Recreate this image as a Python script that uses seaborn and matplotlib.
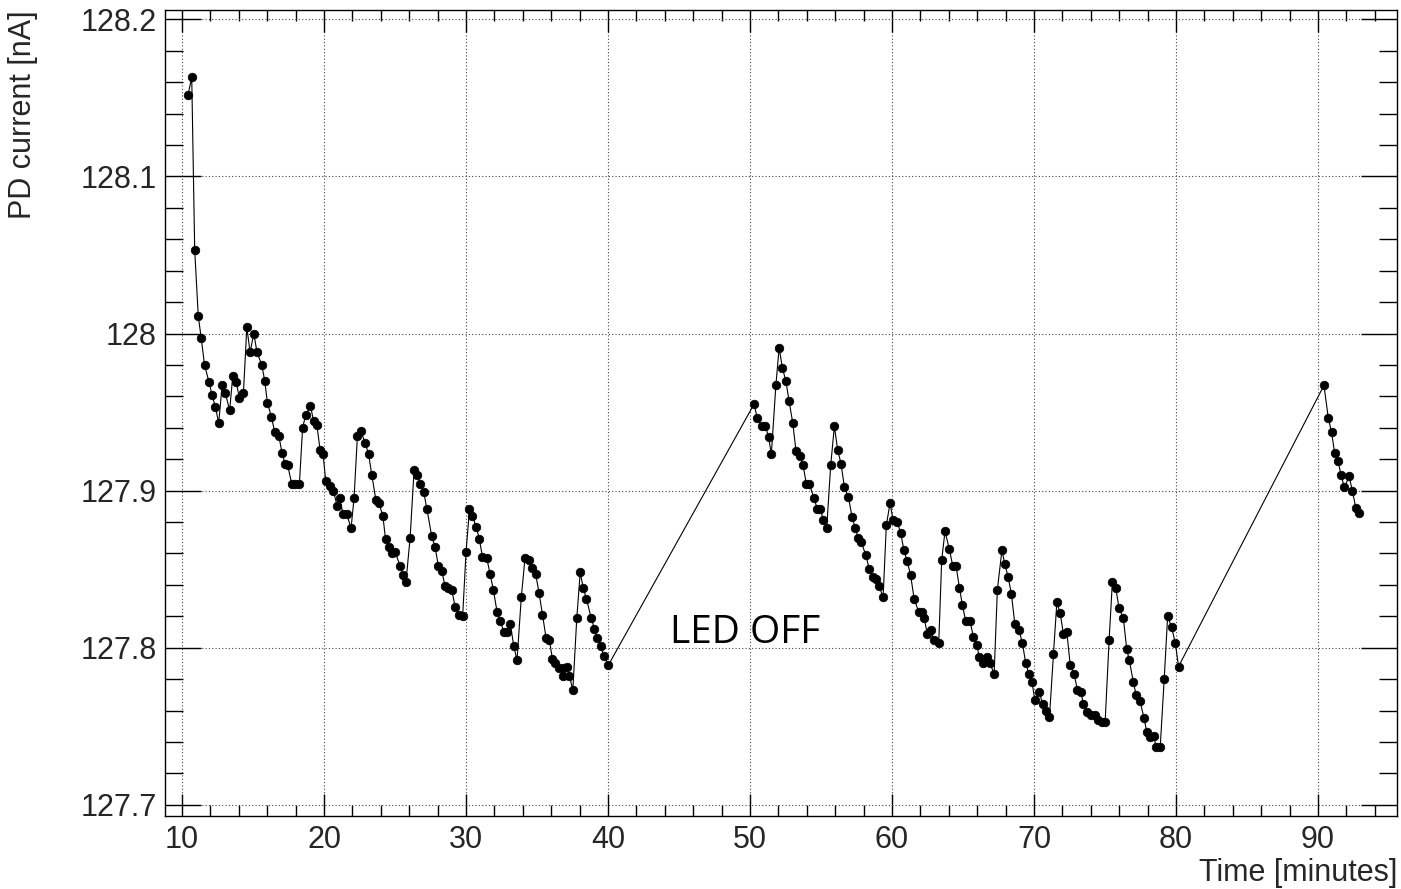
import matplotlib
matplotlib.use("Agg")
import matplotlib.pyplot as plt
from matplotlib.ticker import MultipleLocator
import seaborn as sns
import pandas as pd

# ---- data ----
time_run1 = [10.42, 10.68, 10.89, 11.14, 11.35, 11.58, 11.90, 12.11, 12.35, 12.58, 12.82, 13.05, 13.35, 13.57, 13.81, 14.04,
             14.32, 14.56, 14.79, 15.05, 15.28, 15.61, 15.82, 16.01, 16.29, 16.53, 16.81, 17.04, 17.25, 17.44, 17.73, 17.96, 18.26,
             18.49, 18.70, 19.04, 19.27, 19.49, 19.72, 19.93, 20.12, 20.40, 20.65, 20.93, 21.10, 21.34, 21.60, 21.90, 22.11,
             22.35, 22.58, 22.91, 23.14, 23.36, 23.65, 23.86, 24.14, 24.33, 24.60, 24.80, 25.00, 25.35, 25.59, 25.77, 26.06,
             26.34, 26.57, 26.78, 27.02, 27.25, 27.58, 27.82, 28.05, 28.29, 28.52, 28.75, 28.99, 29.23, 29.53, 29.76, 30.00,
             30.24, 30.45, 30.71, 30.94, 31.15, 31.46, 31.69, 31.92, 32.18, 32.39, 32.68, 32.91, 33.12, 33.36, 33.59, 33.89,
             34.15, 34.41, 34.62, 34.90, 35.14, 35.38, 35.64, 35.87, 36.08, 36.29, 36.57, 36.81, 36.86, 37.09, 37.28, 37.52, 37.80,
             38.04, 38.25, 38.48, 38.81, 39.04, 39.25, 39.49, 39.70, 40.03]
current_run1 = [128.152, 128.163, 128.053, 128.011, 127.997, 127.980, 127.969, 127.961, 127.953, 127.943, 127.967, 127.962, 127.951, 127.973, 127.969, 127.959,
                127.962, 128.004, 127.988, 128.000, 127.988, 127.980, 127.970, 127.956, 127.947, 127.937, 127.935, 127.924, 127.917, 127.916, 127.904, 127.904, 127.904,
                127.940, 127.948, 127.954, 127.944, 127.942, 127.926, 127.923, 127.906, 127.903, 127.900, 127.890, 127.895, 127.885, 127.885, 127.876, 127.895,
                127.935, 127.938, 127.930, 127.923, 127.910, 127.894, 127.892, 127.884, 127.869, 127.864, 127.860, 127.861, 127.852, 127.846, 127.842, 127.870,
                127.913, 127.910, 127.904, 127.899, 127.888, 127.871, 127.864, 127.852, 127.849, 127.839, 127.838, 127.837, 127.826, 127.821, 127.820, 127.861,
                127.888, 127.884, 127.877, 127.869, 127.858, 127.857, 127.847, 127.837, 127.823, 127.817, 127.810, 127.810, 127.815, 127.801, 127.792, 127.832,
                127.857, 127.856, 127.851, 127.847, 127.835, 127.821, 127.806, 127.805, 127.793, 127.790, 127.787, 127.787, 127.782, 127.788, 127.782, 127.773, 127.819,
                127.848, 127.838, 127.831, 127.819, 127.812, 127.806, 127.801, 127.795, 127.789]

time_run2 = [50.28, 50.52, 50.82, 51.08, 51.31, 51.50, 51.82, 52.05, 52.28, 52.52,
             52.75, 53.01, 53.24, 53.50, 53.74, 53.97, 54.18, 54.51, 54.75, 54.96,
             55.17, 55.40, 55.68, 55.94, 56.17, 56.41, 56.65, 56.93, 57.19, 57.42,
             57.61, 57.84, 58.15, 58.40, 58.64, 58.85, 59.10, 59.37, 59.60, 59.86,
             60.08, 60.37, 60.61, 60.84, 61.07, 61.31, 61.56, 61.87, 62.08, 62.26,
             62.48, 62.75, 62.93, 63.29, 63.50, 63.73, 64.03, 64.28, 64.51, 64.75,
             64.96, 65.19, 65.49, 65.73, 65.96, 66.15, 66.44, 66.68, 66.91, 67.19,
             67.42, 67.74, 67.95, 68.18, 68.41, 68.65, 68.95, 69.18, 69.42, 69.65,
             69.86, 70.05, 70.37, 70.61, 70.85, 71.09, 71.37, 71.61, 71.84, 72.07,
             72.31, 72.55, 72.83, 73.06, 73.30, 73.48, 73.72, 74.00, 74.31, 74.54,
             74.78, 75.01, 75.29, 75.52, 75.76, 75.99, 76.29, 76.53, 76.71, 77.00,
             77.19, 77.47, 77.75, 77.95, 78.18, 78.42, 78.60, 78.89, 79.17, 79.41,
             79.69, 79.95, 80.18]
current_run2 = [127.955, 127.946, 127.941, 127.941, 127.934, 127.923, 127.967, 127.991, 127.978, 127.970,
                127.957, 127.943, 127.925, 127.922, 127.916, 127.904, 127.904, 127.895, 127.888, 127.888,
                127.881, 127.876, 127.916, 127.941, 127.926, 127.917, 127.902, 127.896, 127.883, 127.876,
                127.870, 127.867, 127.859, 127.850, 127.845, 127.844, 127.839, 127.832, 127.878, 127.892,
                127.881, 127.880, 127.873, 127.862, 127.855, 127.846, 127.831, 127.823, 127.823, 127.819,
                127.809, 127.811, 127.805, 127.803, 127.856, 127.874, 127.863, 127.852, 127.852, 127.838,
                127.827, 127.817, 127.817, 127.807, 127.802, 127.794, 127.790, 127.794, 127.790, 127.783,
                127.837, 127.862, 127.853, 127.845, 127.834, 127.815, 127.811, 127.803, 127.790, 127.783,
                127.778, 127.767, 127.772, 127.764, 127.760, 127.756, 127.796, 127.829, 127.822, 127.809,
                127.810, 127.789, 127.783, 127.773, 127.772, 127.764, 127.759, 127.757, 127.757, 127.754,
                127.753, 127.753, 127.805, 127.842, 127.838, 127.825, 127.819, 127.799, 127.792, 127.778,
                127.770, 127.766, 127.755, 127.746, 127.743, 127.744, 127.737, 127.737, 127.780, 127.820,
                127.813, 127.803, 127.788]

time_run3 = [90.42, 90.73, 90.96, 91.17, 91.41, 91.62, 91.86, 92.19, 92.42, 92.66, 92.89]
current_run3 = [127.967, 127.946, 127.937, 127.924, 127.919, 127.910, 127.902, 127.909, 127.900, 127.889, 127.886]

x_label = "Time [minutes]"
y_label = "PD current [nA]"
annotation = "LED OFF"

df = pd.DataFrame({
    "time": time_run1 + time_run2 + time_run3,
    "current": current_run1 + current_run2 + current_run3,
})

# ---- style ----
sns.set_style("white")
plt.rcParams["font.family"] = ["Liberation Sans", "DejaVu Sans"]

fig = plt.figure(figsize=(14.01, 8.89), dpi=100)
ax = fig.add_axes([0.1178, 0.0824, 0.8793, 0.9064])

sns.lineplot(data=df, x="time", y="current", ax=ax, estimator=None, sort=False,
             color="black", linewidth=0.8, marker="o", markersize=6.2,
             markeredgecolor="black", markerfacecolor="black", markeredgewidth=0.5)

ax.set_xlim(8.8, 95.56)
ax.set_ylim(127.693, 128.206)

ax.xaxis.set_major_locator(MultipleLocator(10))
ax.xaxis.set_minor_locator(MultipleLocator(2))
ax.yaxis.set_major_locator(MultipleLocator(0.1))
ax.yaxis.set_minor_locator(MultipleLocator(0.02))
ax.set_yticks([127.7, 127.8, 127.9, 128.0, 128.1, 128.2])
ax.set_yticklabels(["127.7", "127.8", "127.9", "128", "128.1", "128.2"])

ax.tick_params(which="both", direction="in", top=True, right=True,
               bottom=True, left=True, color="black", width=1.0, labelsize=22)
ax.tick_params(axis="y", which="major", length=26, pad=6)
ax.tick_params(axis="y", which="minor", length=13)
ax.tick_params(axis="x", which="major", length=16, pad=7)
ax.tick_params(axis="x", which="minor", length=8)

ax.grid(True, which="major", linestyle=(0, (1, 2)), color="#444444", linewidth=0.8)

for s in ax.spines.values():
    s.set_color("black")
    s.set_linewidth(1.0)
    s.set_visible(True)

ax.set_xlabel(x_label, fontsize=22, loc="right")
ax.xaxis.set_label_coords(1.0, -0.052)
ax.set_ylabel(y_label, fontsize=22, loc="top")
ax.yaxis.set_label_coords(-0.103, 1.0)

ax.text(44.37, 127.803, annotation, fontsize=28, family=["Open Sans", "DejaVu Sans"],
        ha="left", va="baseline", color="black")

fig.savefig("out.png", dpi=100)
